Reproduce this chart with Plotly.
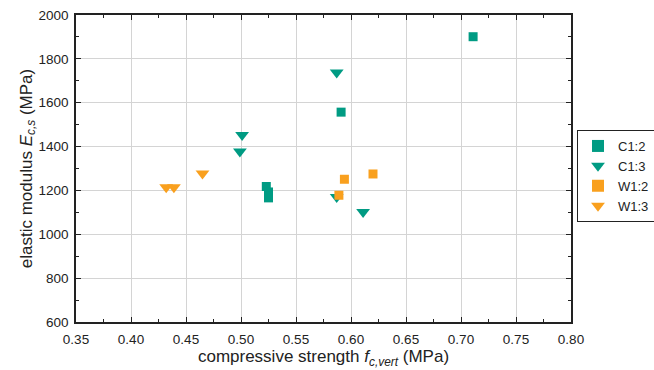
import plotly.graph_objects as go

# data
c12_x = [0.711, 0.591, 0.523, 0.525, 0.525]
c12_y = [1901, 1557, 1218, 1193, 1166]
c13_x = [0.587, 0.501, 0.499, 0.587, 0.611]
c13_y = [1738, 1453, 1377, 1170, 1102]
w12_x = [0.594, 0.620, 0.589]
w12_y = [1251, 1275, 1178]
w13_x = [0.432, 0.439, 0.465]
w13_y = [1214, 1214, 1277]

teal = "#009B83"
orange = "#F9A01E"

fig = go.Figure()
fig.add_trace(go.Scatter(x=c12_x, y=c12_y, mode="markers", name="C1:2",
                         marker=dict(symbol="square", size=9, color=teal)))
fig.add_trace(go.Scatter(x=c13_x, y=c13_y, mode="markers", name="C1:3",
                         marker=dict(symbol="triangle-down", size=12, color=teal)))
fig.add_trace(go.Scatter(x=w12_x, y=w12_y, mode="markers", name="W1:2",
                         marker=dict(symbol="square", size=9, color=orange)))
fig.add_trace(go.Scatter(x=w13_x, y=w13_y, mode="markers", name="W1:3",
                         marker=dict(symbol="triangle-down", size=12, color=orange)))

axis_common = dict(
    showline=True, linecolor="#222", linewidth=1.5, mirror="ticks",
    ticks="inside", ticklen=5, tickcolor="#222", tickwidth=1,
    showgrid=True, gridcolor="#d4d4d4", gridwidth=1, zeroline=False,
    tickfont=dict(family="Liberation Sans, Arial", size=13.5, color="#222"),
)

fig.update_layout(
    width=654, height=370,
    margin=dict(l=76, r=83, t=15, b=48, autoexpand=False),
    plot_bgcolor="white", paper_bgcolor="white",
    font=dict(family="Liberation Sans, Arial", color="#222"),
    xaxis=dict(range=[0.35, 0.80], dtick=0.05, tick0=0.35, tickformat=".2f",
               ticklabelstandoff=4,
               minor=dict(ticks="inside", ticklen=3, dtick=0.025, tickcolor="#222", showgrid=False),
               title=dict(text="compressive strength <i>f</i><sub><i>c,vert</i></sub> (MPa)",
                          font=dict(size=17), standoff=2),
               **axis_common),
    yaxis=dict(range=[600, 2000], dtick=200,
               ticklabelstandoff=3,
               minor=dict(ticks="inside", ticklen=3, dtick=100, tickcolor="#222", showgrid=False),
               title=dict(text="elastic modulus <i>E</i><sub><i>c,s</i></sub> (MPa)",
                          font=dict(size=17), standoff=1),
               **axis_common),
    legend=dict(xref="container", yref="container", x=577 / 654, y=1 - 130 / 370,
                xanchor="left", yanchor="top",
                bordercolor="#222", borderwidth=1, bgcolor="white",
                font=dict(size=13), tracegroupgap=0, itemsizing="constant",
                itemwidth=30),
)

fig.write_html("out.html")
